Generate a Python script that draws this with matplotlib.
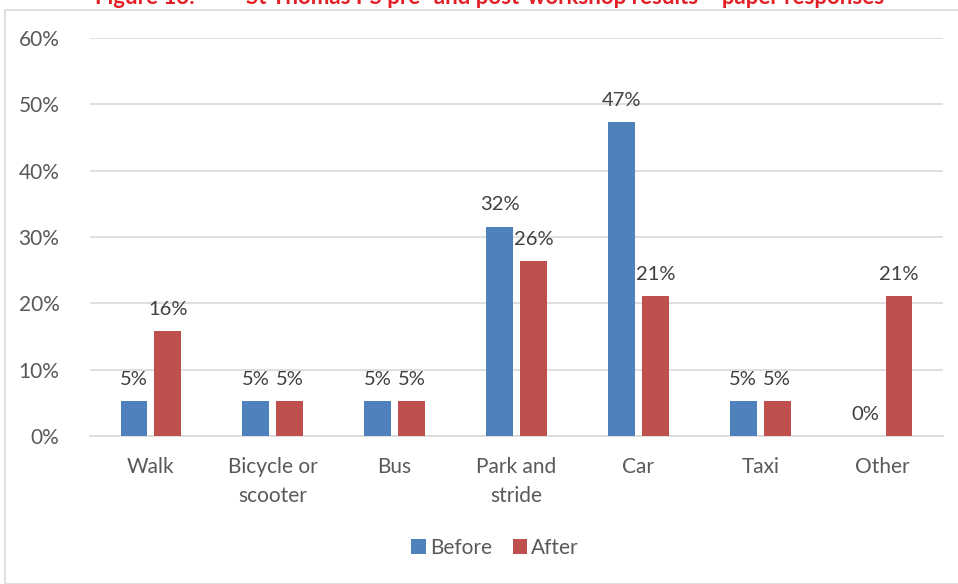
import numpy as np
import matplotlib.pyplot as plt
from matplotlib.patches import Rectangle

categorias = ['Walk', 'Bicycle or\nscooter', 'Bus', 'Park and\nstride', 'Car', 'Taxi', 'Other']
antes = [5.26, 5.26, 5.26, 31.58, 47.37, 5.26, 0.0]
depois = [15.79, 5.26, 5.26, 26.32, 21.05, 5.26, 21.05]
rotulos_antes = ['5%', '5%', '5%', '32%', '47%', '5%', '0%']
rotulos_depois = ['16%', '5%', '5%', '26%', '21%', '5%', '21%']
ticks_y = [0, 10, 20, 30, 40, 50, 60]

plt.rcParams['font.family'] = ['Lato', 'DejaVu Sans']

fig = plt.figure(figsize=(9.58, 5.84), dpi=100)
W, H = 958, 584

# moldura do gráfico
fig.patches.append(Rectangle((5 / W, 0), 1, 1 - 10 / H, transform=fig.transFigure,
                             fill=False, edgecolor='#d9d9d9', linewidth=1.2))

# título (cortado no topo, como no original)
fig.text(95 / W, 1 + 3 / H, 'Figure 13:', color='#e31e24', fontsize=16, fontweight='bold',
         ha='left', va='center')
fig.text(246 / W, 1 + 3 / H, 'St Thomas PS pre- and post-workshop results \u2013 paper responses',
         color='#e31e24', fontsize=16, fontweight='bold', ha='left', va='center')

ax = fig.add_axes([90 / W, 1 - 436 / H, (943 - 90) / W, (436 - 38) / H])

x = np.arange(len(categorias))
larg = 0.22
desloc = 0.139
b1 = ax.bar(x - desloc, antes, larg, color='#4f81bd', label='Before', zorder=3)
b2 = ax.bar(x + desloc, depois, larg, color='#c0504d', label='After', zorder=3)

for i in range(len(categorias)):
    ax.text(x[i] - desloc, antes[i] + 2.0, rotulos_antes[i], ha='center', va='bottom',
            fontsize=14.5, color='#404040')
    ax.text(x[i] + desloc, depois[i] + 2.0, rotulos_depois[i], ha='center', va='bottom',
            fontsize=14.5, color='#404040')

ax.set_xlim(-0.5, len(categorias) - 0.5)
ax.set_ylim(0, 60)
ax.set_yticks(ticks_y)
ax.set_yticklabels([f'{t}%' for t in ticks_y])
ax.set_xticks(x)
ax.set_xticklabels(categorias, linespacing=1.55)
ax.tick_params(axis='both', length=0, labelsize=15, labelcolor='#595959')
ax.tick_params(axis='y', pad=22)
ax.tick_params(axis='x', pad=15)
ax.grid(axis='y', color='#d9d9d9', linewidth=1.2, zorder=0)
for lado in ['top', 'right', 'left']:
    ax.spines[lado].set_visible(False)
ax.spines['bottom'].set_color('#d9d9d9')
ax.spines['bottom'].set_linewidth(1.2)

fig.legend(handles=[b1, b2], loc='center', bbox_to_anchor=(495 / W, 1 - 548 / H), ncol=2,
           frameon=False, fontsize=15, handlelength=0.7, handleheight=0.7,
           handletextpad=0.2, columnspacing=1.0, labelcolor='#595959')

fig.savefig('out.png', dpi=100)
